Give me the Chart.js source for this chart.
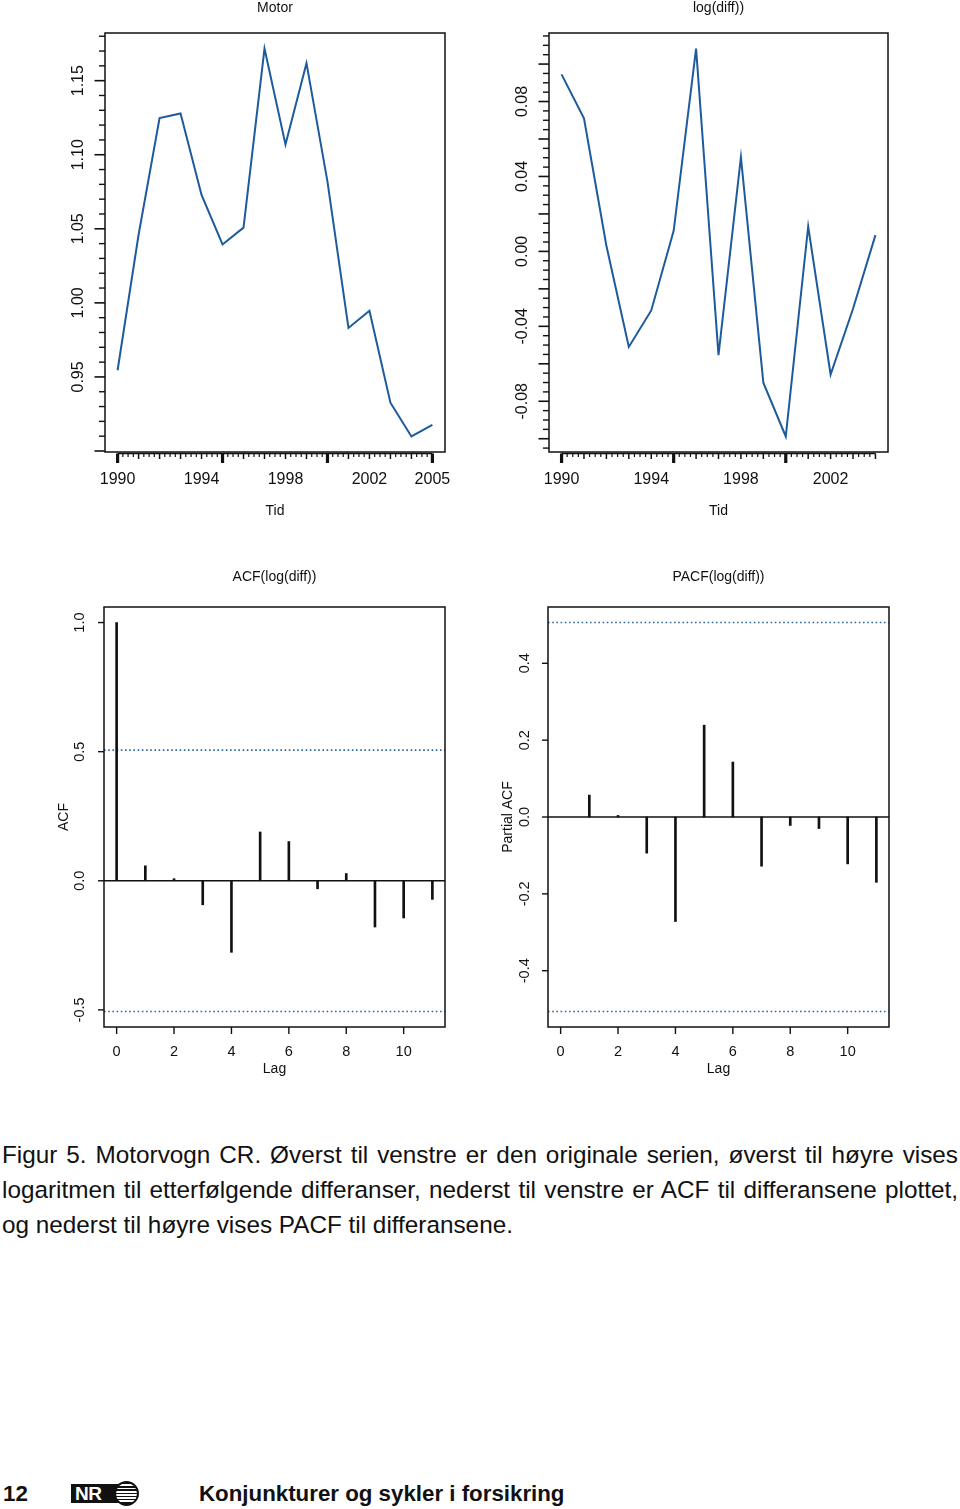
<!DOCTYPE html>
<html>
<head>
<meta charset="utf-8">
<script src="https://cdn.jsdelivr.net/npm/chart.js@4.4.1/dist/chart.umd.min.js"></script>
<style>
  body { margin: 0; background: #fff; width: 960px; height: 1509px; position: relative; overflow: hidden;
         font-family: "Liberation Sans", Arial, Helvetica, sans-serif; color: #111; }
  canvas { position: absolute; }
  .cap { position: absolute; left: 2px; font-size: 24.3px; line-height: 35px; white-space: nowrap; }
  .just { width: 956px; text-align: justify; text-align-last: justify; white-space: normal; }
  .fot { position: absolute; font-weight: bold; font-size: 22.3px; line-height: 26px; white-space: nowrap; }
  #logo { position: absolute; left: 71px; top: 1484px; width: 50px; height: 19px; background: #111; }
  #logo span { position: absolute; left: 4px; top: 0px; color: #fff; font-weight: bold; font-size: 19px; line-height: 19px; letter-spacing: -0.5px; }
  #kule { position: absolute; left: 114px; top: 1481px; width: 21px; height: 21px; border-radius: 50%;
          border: 2px solid #111;
          background: repeating-linear-gradient(180deg, #111 0 1.5px, #fff 1.5px 3.2px); }
</style>
</head>
<body>
<canvas id="c1" width="480" height="530" style="left:0;top:0"></canvas>
<canvas id="c2" width="480" height="530" style="left:480px;top:0"></canvas>
<canvas id="c3" width="480" height="520" style="left:0;top:560px"></canvas>
<canvas id="c4" width="480" height="520" style="left:480px;top:560px"></canvas>

<div class="cap just" style="top:1137px">Figur 5. Motorvogn CR. Øverst til venstre er den originale serien, øverst til høyre vises</div>
<div class="cap just" style="top:1172px">logaritmen til etterfølgende differanser, nederst til venstre er ACF til differansene plottet,</div>
<div class="cap" style="top:1207px">og nederst til høyre vises PACF til differansene.</div>

<div class="fot" style="left:3px;top:1481px">12</div>
<div id="logo"><span>NR</span></div>
<div id="kule"></div>
<div class="fot" style="left:199px;top:1481px">Konjunkturer og sykler i forsikring</div>

<script>
// Motorvogn CR: original serie, log-differanser, ACF og PACF

// data
const aar1 = [1990, 1991, 1992, 1993, 1994, 1995, 1996, 1997, 1998, 1999, 2000, 2001, 2002, 2003, 2004, 2005];
const motor = [0.9545, 1.046, 1.1247, 1.1279, 1.0729, 1.0394, 1.0508, 1.1717, 1.1069, 1.1618, 1.0818, 0.9831, 0.9947, 0.9326, 0.9098, 0.9176];

const aar2 = [1990, 1991, 1992, 1993, 1994, 1995, 1996, 1997, 1998, 1999, 2000, 2001, 2002, 2003, 2004];
const logDiff = [0.0945, 0.0710, 0.0030, -0.0510, -0.0315, 0.0110, 0.1083, -0.0554, 0.0503, -0.0701, -0.0988, 0.0133, -0.0657, -0.0306, 0.0087];

const acfLag = [0, 1, 2, 3, 4, 5, 6, 7, 8, 9, 10, 11];
const acfVerdi = [1.0, 0.058, 0.008, -0.093, -0.277, 0.189, 0.152, -0.031, 0.028, -0.179, -0.144, -0.072];

const pacfLag = [1, 2, 3, 4, 5, 6, 7, 8, 9, 10, 11];
const pacfVerdi = [0.057, 0.004, -0.094, -0.272, 0.239, 0.143, -0.128, -0.022, -0.030, -0.122, -0.170];

const grense = 0.506; // 1.96/sqrt(n)

// tick labels
const aarTicks1 = [1990, 1994, 1998, 2002, 2005];
const aarTicks2 = [1990, 1994, 1998, 2002];
const motorTicks = ['0.95', '1.00', '1.05', '1.10', '1.15'];
const diffTicks = ['-0.08', '-0.04', '0.00', '0.04', '0.08'];
const acfTicks = ['-0.5', '0.0', '0.5', '1.0'];
const pacfTicks = ['-0.4', '-0.2', '0.0', '0.2', '0.4'];
const lagTicks = [0, 2, 4, 6, 8, 10];

const BLA = '#1d5b9c';
const FONT = '"Liberation Sans", Arial, Helvetica, sans-serif';

// R-style range: data range + 4 %
function rRange(vals) {
  const lo = Math.min(...vals), hi = Math.max(...vals);
  const d = (hi - lo) * 0.04;
  return [lo - d, hi + d];
}

// panel settings (canvas coordinates)
const panel = {
  c1: { tittel: 'Motor', tittelY: 8, xTittel: 'Tid', xTittelY: 511, xLabY: 480, yLabX: 79, font: 16,
        tid: true, xLab: aarTicks1, yLab: motorTicks, yMinor: 0.01, yMajor: 5 },
  c2: { tittel: 'log(diff))', tittelY: 8, xTittel: 'Tid', xTittelY: 511, xLabY: 480, yLabX: 42.5, font: 16,
        tid: true, xLab: aarTicks2, yLab: diffTicks, yMinor: 0.005, yMajor: 4 },
  c3: { tittel: 'ACF(log(diff))', tittelY: 17, xTittel: 'Lag', xTittelY: 509, xLabY: 492, yLabX: 80, font: 14.5,
        yTittel: 'ACF', yTittelX: 64.5, xLab: lagTicks, yLab: acfTicks, nullLinje: true },
  c4: { tittel: 'PACF(log(diff))', tittelY: 17, xTittel: 'Lag', xTittelY: 509, xLabY: 492, yLabX: 45, font: 14.5,
        yTittel: 'Partial ACF', yTittelX: 28.5, xLab: lagTicks, yLab: pacfTicks, nullLinje: true }
};

function strek(ctx, x1, y1, x2, y2) {
  ctx.beginPath(); ctx.moveTo(x1, y1); ctx.lineTo(x2, y2); ctx.stroke();
}

const rAkser = {
  id: 'rAkser',
  afterDraw(chart) {
    const p = panel[chart.canvas.id];
    const ctx = chart.ctx, a = chart.chartArea;
    const xs = chart.scales.x, ys = chart.scales.y;
    const midt = (a.left + a.right) / 2;
    ctx.save();
    ctx.strokeStyle = '#111';
    ctx.fillStyle = '#111';
    ctx.lineCap = 'butt';

    if (p.nullLinje) {
      ctx.lineWidth = 1.5;
      const y0 = ys.getPixelForValue(0);
      strek(ctx, a.left, y0, a.right, y0);
    }

    // boks
    ctx.lineWidth = 1.5;
    ctx.strokeRect(a.left, a.top, a.right - a.left, a.bottom - a.top);

    // y-akse
    if (p.yMinor) {
      const i0 = Math.ceil(ys.min / p.yMinor - 1e-9), i1 = Math.floor(ys.max / p.yMinor + 1e-9);
      for (let i = i0; i <= i1; i++) {
        const y = ys.getPixelForValue(i * p.yMinor);
        const lang = i % p.yMajor === 0;
        ctx.lineWidth = lang ? 1.6 : 1.4;
        strek(ctx, a.left - (lang ? 10.5 : 6), y, a.left, y);
      }
    } else {
      ctx.lineWidth = 1.4;
      p.yLab.forEach(t => {
        const y = ys.getPixelForValue(parseFloat(t));
        strek(ctx, a.left - 6, y, a.left, y);
      });
    }
    ctx.font = p.font + 'px ' + FONT;
    ctx.textAlign = 'center';
    ctx.textBaseline = 'middle';
    p.yLab.forEach(t => {
      const y = ys.getPixelForValue(parseFloat(t));
      ctx.save();
      ctx.translate(p.yLabX, y);
      ctx.rotate(-Math.PI / 2);
      ctx.fillText(t, 0, 0);
      ctx.restore();
    });

    // x-akse
    if (p.tid) {
      const first = Math.ceil(xs.min), last = Math.floor(xs.max);
      const ya = a.bottom + 1.5;
      ctx.lineWidth = 1.4;
      strek(ctx, xs.getPixelForValue(first), ya, xs.getPixelForValue(last), ya);
      for (let q = first * 4; q <= last * 4; q++) {
        const x = xs.getPixelForValue(q / 4);
        if (q % 20 === 0) { ctx.lineWidth = 3.2; strek(ctx, x, ya, x, ya + 9.5); }
        else if (q % 4 === 0) { ctx.lineWidth = 1.5; strek(ctx, x, ya, x, ya + 5.5); }
        else { ctx.lineWidth = 1.2; strek(ctx, x, ya, x, ya + 3.5); }
      }
    } else {
      ctx.lineWidth = 1.4;
      p.xLab.forEach(v => {
        const x = xs.getPixelForValue(v);
        strek(ctx, x, a.bottom, x, a.bottom + 7);
      });
    }
    p.xLab.forEach(v => ctx.fillText(String(v), xs.getPixelForValue(v), p.xLabY));

    // titler
    ctx.font = '14px ' + FONT;
    ctx.fillText(p.tittel, midt, p.tittelY);
    ctx.fillText(p.xTittel, midt, p.xTittelY);
    if (p.yTittel) {
      ctx.save();
      ctx.translate(p.yTittelX, (a.top + a.bottom) / 2);
      ctx.rotate(-Math.PI / 2);
      ctx.fillText(p.yTittel, 0, 0);
      ctx.restore();
    }
    ctx.restore();
  }
};

function basis(pad, xr, yr) {
  return {
    responsive: false,
    animation: false,
    devicePixelRatio: 1,
    layout: { padding: pad },
    plugins: { legend: { display: false }, tooltip: { enabled: false } },
    scales: {
      x: { type: 'linear', min: xr[0], max: xr[1], offset: false, display: false },
      y: { type: 'linear', min: yr[0], max: yr[1], display: false }
    }
  };
}

function serieGraf(id, aar, verdier, pad) {
  new Chart(document.getElementById(id), {
    type: 'line',
    data: {
      datasets: [{
        data: aar.map((x, i) => ({ x: x, y: verdier[i] })),
        borderColor: BLA, borderWidth: 2, pointRadius: 0, tension: 0, fill: false
      }]
    },
    options: basis(pad, rRange(aar), rRange(verdier)),
    plugins: [rAkser]
  });
}

function acfGraf(id, lag, verdier, xr, yr, pad) {
  const prikk = y => ({
    type: 'line',
    data: [{ x: xr[0], y: y }, { x: xr[1], y: y }],
    borderColor: '#2e679f', borderWidth: 1.6, borderDash: [1.6, 2.6], pointRadius: 0
  });
  new Chart(document.getElementById(id), {
    type: 'bar',
    data: {
      datasets: [
        {
          data: lag.map((x, i) => ({ x: x, y: verdier[i] })),
          backgroundColor: '#111', borderWidth: 0, barThickness: 2
        },
        prikk(grense),
        prikk(-grense)
      ]
    },
    options: basis(pad, xr, yr),
    plugins: [rAkser]
  });
}

serieGraf('c1', aar1, motor, { left: 105, top: 33, right: 35, bottom: 78 });
serieGraf('c2', aar2, logDiff, { left: 69, top: 33, right: 72, bottom: 78 });

const lagRange = rRange([0, 11]);
acfGraf('c3', acfLag, acfVerdi, lagRange, rRange(acfVerdi.concat([grense, -grense])),
        { left: 104, top: 47, right: 35, bottom: 53 });
acfGraf('c4', pacfLag, pacfVerdi, lagRange, rRange(pacfVerdi.concat([grense, -grense])),
        { left: 68, top: 47, right: 71, bottom: 53 });
</script>
</body>
</html>
